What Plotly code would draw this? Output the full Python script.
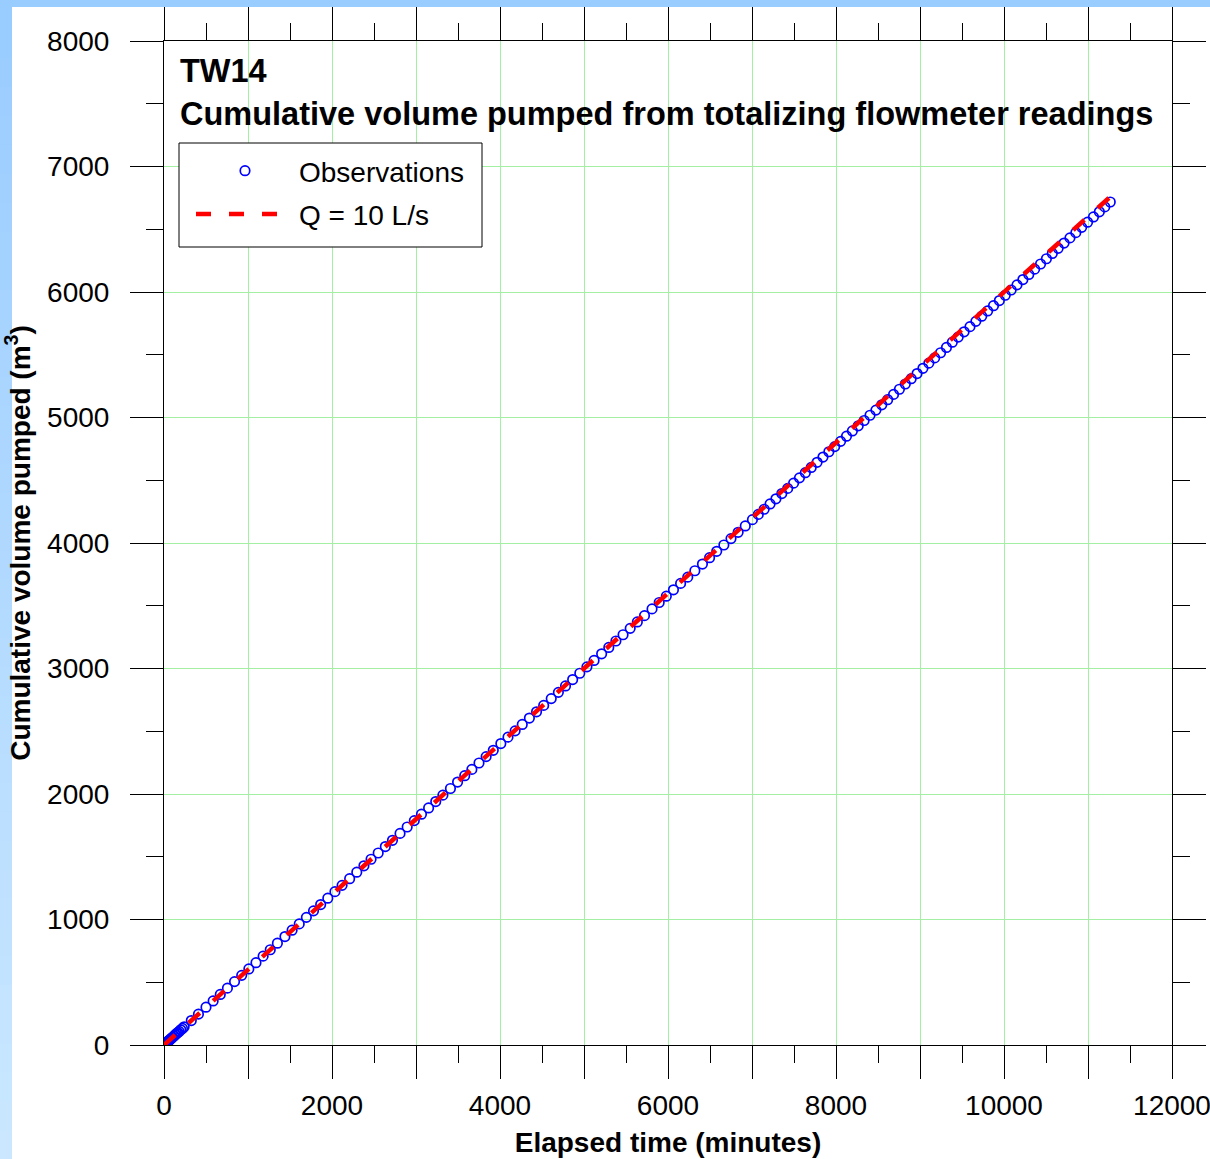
import plotly.graph_objects as go

# Totalizing flowmeter readings, TW14: elapsed time (minutes) and cumulative volume (m3)
obs_time_min = [
    0, 5, 10, 15, 20, 25, 30, 40, 50, 60, 70, 80, 90, 105, 120, 135, 150, 165, 180, 200, 220, 240,
    325, 410, 500, 585, 670, 755, 840, 925, 1010, 1095, 1180, 1265, 1350, 1440, 1525, 1610, 1695,
    1780, 1865, 1950, 2035, 2120, 2210, 2295, 2380, 2465, 2550, 2635, 2720, 2810, 2895, 2980,
    3065, 3150, 3235, 3320, 3410, 3495, 3580, 3665, 3750, 3835, 3920, 4010, 4095, 4180, 4265,
    4350, 4435, 4520, 4610, 4695, 4780, 4865, 4950, 5035, 5120, 5210, 5295, 5380, 5465, 5550,
    5635, 5720, 5810, 5895, 5980, 6065, 6150, 6235, 6320, 6410, 6495, 6580, 6665, 6750, 6835,
    6920, 7005, 7075, 7145, 7215, 7285, 7355, 7425, 7495, 7565, 7635, 7705, 7775, 7845, 7915,
    7985, 8055, 8125, 8195, 8265, 8335, 8405, 8475, 8545, 8615, 8685, 8755, 8825, 8895, 8965,
    9035, 9105, 9175, 9245, 9315, 9385, 9455, 9525, 9595, 9665, 9735, 9805, 9875, 9945, 10015,
    10085, 10155, 10225, 10295, 10365, 10435, 10505, 10575, 10645, 10715, 10785, 10855, 10925,
    10995, 11065, 11135, 11200, 11265,
]
obs_volume_m3 = [
    0, 3, 6, 9, 13, 15, 18, 25, 30, 36, 42, 49, 54, 63, 72, 81, 91, 99, 108, 121, 132, 145,
    195, 246, 301, 351, 403, 453, 505, 555, 606, 656, 708, 759, 811, 864, 915, 965, 1017,
    1069, 1119, 1170, 1222, 1272, 1325, 1377, 1428, 1480, 1530, 1581, 1631, 1686, 1737, 1788,
    1839, 1889, 1940, 1991, 2044, 2095, 2146, 2196, 2247, 2298, 2348, 2402, 2453, 2503, 2554,
    2605, 2655, 2706, 2760, 2810, 2861, 2912, 2962, 3013, 3064, 3117, 3168, 3219, 3269, 3320,
    3371, 3421, 3475, 3526, 3576, 3627, 3678, 3728, 3779, 3832, 3883, 3934, 3984, 4035, 4085,
    4136, 4186, 4228, 4269, 4311, 4352, 4394, 4435, 4477, 4519, 4560, 4602, 4643, 4685, 4727,
    4768, 4810, 4851, 4893, 4934, 4976, 5018, 5059, 5101, 5142, 5184, 5225, 5267, 5309, 5350,
    5392, 5433, 5475, 5516, 5558, 5600, 5641, 5683, 5724, 5766, 5807, 5849, 5891, 5932, 5974,
    6016, 6057, 6099, 6140, 6182, 6223, 6265, 6307, 6348, 6390, 6431, 6473, 6515,
    6556, 6598, 6639, 6678, 6717,
]

# Constant-rate reference line, Q = 10 L/s
Q_LPS = 10
line_time_min = [0, 11265]
line_volume_m3 = [Q_LPS * t * 60 / 1000 for t in line_time_min]

x_major = list(range(0, 12001, 1000))
x_labels = [str(v) if v % 2000 == 0 else "" for v in x_major]
y_major = list(range(0, 8001, 1000))
y_labels = [str(v) for v in y_major]

W, H = 1210, 1159
ML, MR, MT, MB = 164, 38, 41, 114
PW, PH = W - ML - MR, H - MT - MB


def px_x(p):
    return (p - ML) / PW


def px_y(p):
    return (H - MB - p) / PH


FONT = "Liberation Sans, Arial, sans-serif"

fig = go.Figure()
fig.add_trace(go.Scatter(
    x=obs_time_min, y=obs_volume_m3, mode="markers", name="Observations",
    marker=dict(symbol="circle-open", size=9.5, color="#0000ff", line=dict(width=1.7, color="#0000ff")),
    legendgroup="a",
))
fig.add_trace(go.Scatter(
    x=line_time_min, y=line_volume_m3, mode="lines", name="Q = 10 L/s",
    line=dict(color="#ff0000", width=4.5, dash="15px,18px"),
    legendgroup="b",
))

axis_common = dict(
    showline=True, linecolor="#000000", linewidth=1, mirror="allticks",
    ticks="outside", tickcolor="#000000", tickwidth=1, ticklen=33,
    showgrid=True, gridcolor="#a3f0a3", gridwidth=1, zeroline=False,
    automargin=False, ticklabeloverflow="allow",
    tickfont=dict(family=FONT, size=28, color="#000000"),
)

fig.update_xaxes(
    range=[0, 12000], tickmode="array", tickvals=x_major, ticktext=x_labels,
    minor=dict(ticks="outside", ticklen=17, tickcolor="#000000", tickwidth=1, dtick=500, showgrid=False),
    ticklabelstandoff=2,
    title=dict(text="<b>Elapsed time (minutes)</b>", font=dict(family=FONT, size=28, color="#000000"), standoff=12),
    **axis_common,
)
fig.update_yaxes(
    range=[0, 8000], tickmode="array", tickvals=y_major, ticktext=y_labels,
    minor=dict(ticks="outside", ticklen=17, tickcolor="#000000", tickwidth=1, dtick=500, showgrid=False),
    ticklabelstandoff=15,
    title=dict(text="<b>Cumulative volume pumped (m<sup>3</sup>)</b>", font=dict(family=FONT, size=28, color="#000000"), standoff=8),
    **axis_common,
)

# Light-blue frame: top band and a vertical gradient band on the left
shapes = [dict(type="rect", xref="paper", yref="paper", x0=px_x(0), x1=px_x(W), y0=px_y(7), y1=px_y(0),
               fillcolor="#99ccff", line=dict(width=0), layer="below")]
n_strips = 40
c0, c1 = (153, 204, 255), (202, 231, 255)
for i in range(n_strips):
    f = i / (n_strips - 1)
    col = "rgb({},{},{})".format(*[round(a + (b - a) * f) for a, b in zip(c0, c1)])
    ya = H * i / n_strips
    yb = H * (i + 1) / n_strips + 1
    shapes.append(dict(type="rect", xref="paper", yref="paper", x0=px_x(0), x1=px_x(12),
                       y0=px_y(yb), y1=px_y(ya), fillcolor=col, line=dict(width=0), layer="below"))

# Legend frame
shapes.append(dict(type="rect", xref="paper", yref="paper", x0=px_x(179), x1=px_x(482),
                   y0=px_y(247), y1=px_y(143), fillcolor="#ffffff",
                   line=dict(color="#000000", width=1), layer="above"))

annotations = [
    dict(text="<b>TW14</b>", xref="paper", yref="paper", x=px_x(178), y=px_y(71),
         xanchor="left", yanchor="middle", showarrow=False, font=dict(family=FONT, size=32.5, color="#000000")),
    dict(text="<b>Cumulative volume pumped from totalizing flowmeter readings</b>", xref="paper", yref="paper",
         x=px_x(178), y=px_y(114), xanchor="left", yanchor="middle", showarrow=False,
         font=dict(family=FONT, size=32.5, color="#000000")),
]

fig.update_layout(
    width=W, height=H,
    margin=dict(l=ML, r=MR, t=MT, b=MB, autoexpand=False),
    paper_bgcolor="#ffffff", plot_bgcolor="#ffffff",
    font=dict(family=FONT, color="#000000"),
    shapes=shapes, annotations=annotations,
    showlegend=True,
    legend=dict(
        x=px_x(191), y=px_y(146), xanchor="left", yanchor="top",
        bgcolor="rgba(0,0,0,0)", borderwidth=0,
        font=dict(family=FONT, size=28, color="#000000"),
        itemwidth=98, traceorder="grouped", tracegroupgap=4,
    ),
)

fig.write_html("out.html", post_script="document.body.style.margin='0';")
